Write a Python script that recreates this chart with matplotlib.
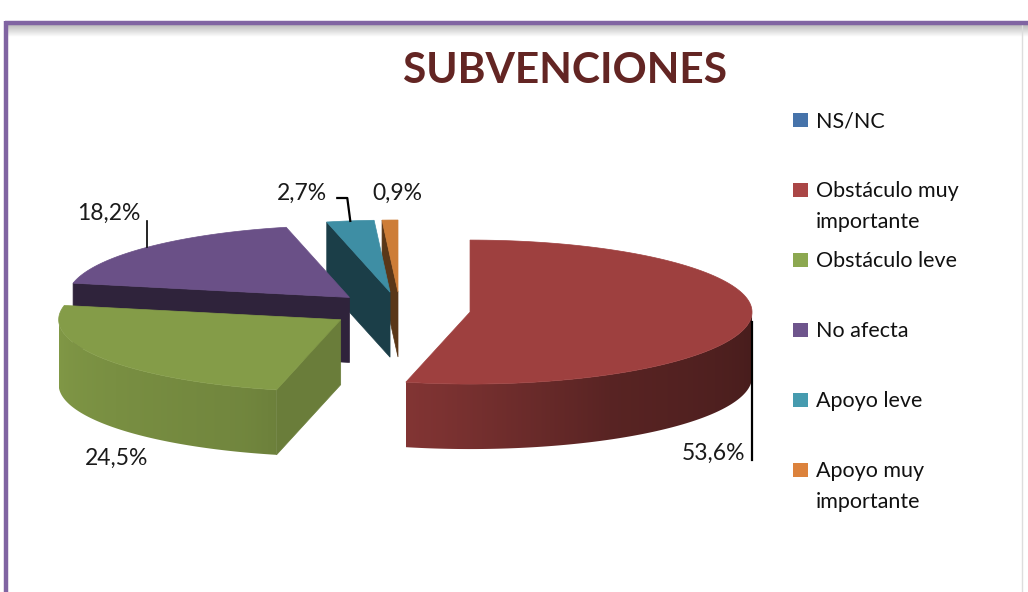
import numpy as np
import matplotlib

matplotlib.use("Agg")

import matplotlib.pyplot as plt
from matplotlib.patches import Polygon, Rectangle

# data
categories = ["NS/NC", "Obstáculo muy\nimportante", "Obstáculo leve",
              "No afecta", "Apoyo leve", "Apoyo muy\nimportante"]
values = [0.0, 53.6, 24.5, 18.2, 2.7, 0.9]
value_labels = ["", "53,6%", "24,5%", "18,2%", "2,7%", "0,9%"]

top_colors = ["#4A7EBB", "#9E403F", "#849C48", "#6A5087", "#3E8EA4", "#CD7D37"]
legend_colors = ["#4673AA", "#AA4646", "#8CA850", "#6E558C", "#469BAF", "#DC823C"]

# layout in pixels (figure is drawn in pixel coordinates)
W, H = 1028, 592
CX, CY = 400, 310
RX, RY = 282, 72
DEPTH = 65
EXPLODE = 0.25

plt.rcParams["font.family"] = ["Lato", "DejaVu Sans"]

fig = plt.figure(figsize=(W / 100, H / 100), dpi=100)
fig.patch.set_facecolor("white")
ax = fig.add_axes([0, 0, 1, 1])
ax.set_xlim(0, W)
ax.set_ylim(H, 0)
ax.axis("off")


def shade(color, k):
    rgb = np.array(matplotlib.colors.to_rgb(color))
    return tuple(np.clip(rgb * k, 0, 1))


def wall_factor(theta):
    return np.interp(theta, [90, 150, 185, 200, 270], [0.44, 0.56, 0.78, 0.86, 0.98])


def face_factor(normal):
    return np.interp(normal % 360, [90, 110, 180, 270], [0.80, 0.80, 0.44, 0.44])


def arc(vx, vy, a, b, n=80, dz=0.0):
    t = np.radians(np.linspace(a, b, n))
    return np.column_stack([vx + RX * np.sin(t), vy - RY * np.cos(t) + dz])


total = sum(values)
bounds = np.concatenate([[0], np.cumsum(values)]) / total * 360
slices = []
for i, v in enumerate(values):
    if v <= 0:
        continue
    a, b = bounds[i], bounds[i + 1]
    mid = np.radians((a + b) / 2)
    vx = CX + EXPLODE * RX * np.sin(mid)
    vy = CY - EXPLODE * RY * np.cos(mid)
    slices.append((i, a, b, np.degrees(mid), vx, vy))

# back to front
slices.sort(key=lambda s: -np.cos(np.radians(s[3])))

z = 1
for i, a, b, mid, vx, vy in slices:
    col = top_colors[i]
    # radial cut faces
    for ang, normal in ((a, a - 90), (b, b + 90)):
        if np.cos(np.radians(normal)) < -1e-6:
            p = arc(vx, vy, ang, ang, 1)[0]
            poly = [(vx, vy), tuple(p), (p[0], p[1] + DEPTH), (vx, vy + DEPTH)]
            c = shade(col, face_factor(normal))
            ax.add_patch(Polygon(poly, closed=True, facecolor=c, edgecolor=c,
                                 lw=0.5, zorder=z))
    # outer wall (front half only), horizontal gradient clipped to the wall shape
    lo, hi = max(a, 90), min(b, 270)
    if hi > lo:
        top = arc(vx, vy, lo, hi, 120)
        bot = arc(vx, vy, hi, lo, 120, DEPTH)
        wall = Polygon(np.vstack([top, bot]), closed=True, facecolor="none",
                       edgecolor="none", zorder=z)
        ax.add_patch(wall)
        x0, x1 = top[:, 0].min(), top[:, 0].max()
        xs = np.linspace(x0, x1, 400)
        theta = 180 - np.degrees(np.arcsin(np.clip((xs - vx) / RX, -1, 1)))
        rgb = np.array([shade(col, wall_factor(t)) for t in theta])
        img = ax.imshow(rgb[None, :, :], extent=(x0, x1, top[:, 1].max() + DEPTH + 2,
                                                 top[:, 1].min() - 2),
                        aspect="auto", interpolation="bilinear", zorder=z)
        img.set_clip_path(wall)
    # top face
    pts = np.vstack([[vx, vy], arc(vx, vy, a, b, 120)])
    ax.add_patch(Polygon(pts, closed=True, facecolor=col, edgecolor=col, lw=0.5,
                         zorder=z + 0.5))
    z += 1

# data labels with leader lines anchored at the slice's mid angle on the top rim
label_style = {1: (745, 460, "right", "down"),
               2: (85, 465, "left", None),
               3: (77, 220, "left", "up"),
               4: (277, 200, "left", "elbow"),
               5: (372, 200, "left", None)}
for i, a, b, mid, vx, vy in slices:
    lx, ly, ha, leader = label_style[i]
    ax.text(lx, ly, value_labels[i], fontsize=16.5, ha=ha, va="baseline",
            color="#1a1a1a", zorder=20)
    ax_pt = arc(vx, vy, mid, mid, 1)[0]
    if leader == "down":
        ax.plot([ax_pt[0] + 2, ax_pt[0] + 2], [ax_pt[1] + 2, ly], color="black",
                lw=1.6, zorder=20)
    elif leader == "up":
        ax.plot([ax_pt[0], ax_pt[0]], [ax_pt[1], ly + 1], color="black", lw=1.2,
                zorder=20)
    elif leader == "elbow":
        ax.plot([ax_pt[0] - 13, ax_pt[0] - 3, ax_pt[0]], [ly - 2, ly - 2, ax_pt[1]],
                color="black", lw=1.6, zorder=20)

# legend
for k, (name, c) in enumerate(zip(categories, legend_colors)):
    base = 127 + 70 * k
    ax.add_patch(Rectangle((793, base - 14), 15, 14, facecolor=c, edgecolor="none",
                           zorder=20))
    for j, line in enumerate(name.split("\n")):
        ax.text(816, base + 31 * j, line, fontsize=15.5, ha="left", va="baseline",
                color="#111111", zorder=20)

# title
ax.text(565, 83, "SUBVENCIONES", fontsize=30.5, fontweight="bold", ha="center",
        va="baseline", color="#632523", zorder=20)

# chart frame (cropped rounded box) with soft shadow under the top edge
grad = np.linspace(0.72, 1.0, 30).reshape(-1, 1)
ax.imshow(np.dstack([grad, grad, grad]), extent=(7, W, 37, 24), aspect="auto",
          interpolation="bilinear", zorder=0.5)
ax.plot([5, W], [22.5, 22.5], color="#8064A2", lw=3.2, solid_capstyle="butt", zorder=30)
ax.plot([5.5, 5.5], [21, H], color="#8064A2", lw=3.2, solid_capstyle="butt", zorder=30)
ax.plot([1022, 1022], [24, H], color="#dddddd", lw=1.0, zorder=0.6)
ax.set_xlim(0, W)
ax.set_ylim(H, 0)

fig.savefig("out.png", dpi=100, facecolor="white")
